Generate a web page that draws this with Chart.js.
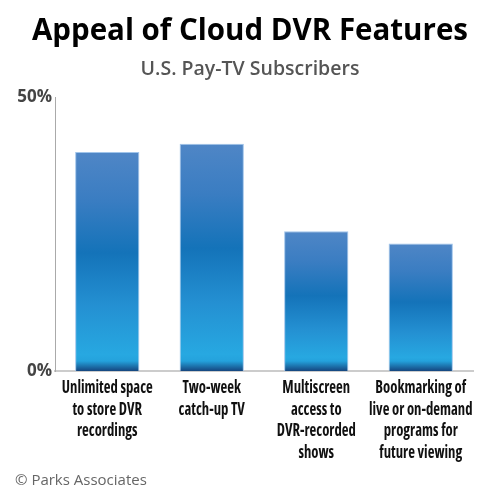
<!DOCTYPE html>
<html>
<head>
<meta charset="utf-8">
<script src="https://cdn.jsdelivr.net/npm/chart.js@4.4.1/dist/chart.umd.min.js"></script>
<style>
  html, body { margin: 0; padding: 0; background: #ffffff; }
  #wrap { width: 500px; height: 500px; }
</style>
</head>
<body>
<div id="wrap"><canvas id="c" width="500" height="500"></canvas></div>
<script>
const titleText = "Appeal of Cloud DVR Features";
const subtitleText = "U.S. Pay-TV Subscribers";
const creditText = "© Parks Associates";
const categories = [
  ["Unlimited space", "to store DVR", "recordings"],
  ["Two-week", "catch-up TV"],
  ["Multiscreen", "access to", "DVR-recorded", "shows"],
  ["Bookmarking of", "live or on-demand", "programs for", "future viewing"]
];
const values = [40, 41.5, 25.5, 23.3];
const yTicks = [0, 50];

function barGradient(ctx) {
  const chart = ctx.chart;
  const area = chart.chartArea;
  if (!area || ctx.type !== 'data') return '#1f7fc4';
  const ys = chart.scales.y;
  const top = ys.getPixelForValue(ctx.raw);
  const bottom = ys.getPixelForValue(0);
  const h = Math.max(bottom - top, 1);
  const g = chart.ctx.createLinearGradient(0, top, 0, bottom);
  const dark = Math.max(0, 1 - 10 / h);
  g.addColorStop(0, '#4f86c6');
  g.addColorStop(0.22, '#3a7dc2');
  g.addColorStop(0.46, '#1473b9');
  g.addColorStop(0.7, '#2490d2');
  g.addColorStop(dark * 0.97, '#27a8e1');
  g.addColorStop(dark, '#24a2dc');
  g.addColorStop(1, '#15467f');
  return g;
}

const labelPlugin = {
  id: 'condLabels',
  afterDraw(chart) {
    const c = chart.ctx;
    const xs = chart.scales.x;
    c.save();
    c.font = "bold 17px 'Open Sans', sans-serif";
    try { c.fontStretch = 'condensed'; } catch (e) {}
    const ref = c.measureText(categories[0][0]).width;
    const sx = Math.min(1, 91 / ref);
    c.fillStyle = '#111111';
    c.textAlign = 'center';
    c.textBaseline = 'alphabetic';
    categories.forEach((lines, i) => {
      const x = xs.getPixelForTick(i);
      lines.forEach((ln, j) => {
        c.save();
        c.translate(x, chart.chartArea.bottom + 22 + j * 21.7);
        c.scale(sx, 1);
        c.fillText(ln, 0, 0);
        c.restore();
      });
    });
    c.restore();

    c.save();
    c.font = "15px 'Open Sans', sans-serif";
    c.fillStyle = '#666666';
    c.textAlign = 'left';
    c.textBaseline = 'alphabetic';
    c.fillText(creditText, 15, 485);
    c.restore();
  }
};

new Chart(document.getElementById('c'), {
  type: 'bar',
  data: {
    labels: categories,
    datasets: [{
      data: values,
      backgroundColor: barGradient,
      borderColor: 'rgba(150,190,232,0.9)',
      borderWidth: 1,
      borderSkipped: 'bottom',
      categoryPercentage: 1,
      barPercentage: 0.615
    }]
  },
  options: {
    responsive: false,
    animation: false,
    devicePixelRatio: 1,
    layout: { padding: 0 },
    plugins: {
      legend: { display: false },
      tooltip: { enabled: false },
      title: {
        display: true,
        text: titleText,
        color: '#000000',
        font: { family: "'Open Sans', sans-serif", size: 29.5, weight: 'bold' },
        padding: { top: 14, bottom: 0 }
      },
      subtitle: {
        display: true,
        text: subtitleText,
        color: '#555555',
        font: { family: "'Open Sans', sans-serif", size: 19.5, weight: '600' },
        padding: { top: 8.4, bottom: 16 }
      }
    },
    scales: {
      x: {
        grid: { display: false, drawTicks: false },
        border: { display: true, color: '#cccccc', width: 2 },
        ticks: { display: false },
        afterFit(s) { s.height = 129; }
      },
      y: {
        min: 0,
        max: 50,
        afterBuildTicks(s) { s.ticks = yTicks.map(v => ({ value: v })); },
        grid: { display: false, drawTicks: false },
        border: { display: true, color: '#aaaaaa', width: 1, dash: [1, 2] },
        ticks: {
          color: '#444444',
          font: { family: "'Open Sans', sans-serif", size: 17, weight: 'bold' },
          padding: 3,
          callback: v => v + '%'
        },
        afterFit(s) { s.width = 55; }
      },
      y2: {
        position: 'right',
        display: true,
        grid: { display: false, drawTicks: false },
        border: { display: false },
        ticks: { display: false },
        afterFit(s) { s.width = 27; }
      }
    }
  },
  plugins: [labelPlugin]
});
</script>
</body>
</html>
